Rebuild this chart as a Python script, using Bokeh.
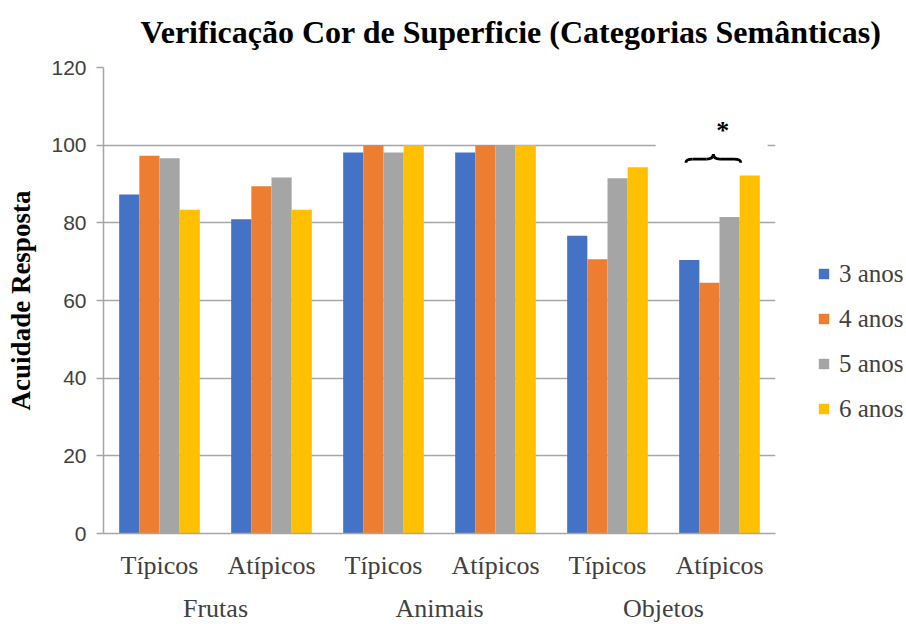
from bokeh.plotting import figure
from bokeh.layouts import row, column
from bokeh.models import (FactorRange, Range1d, Legend, LegendItem, ColumnDataSource,
                          FixedTicker, Label)
from bokeh.transform import dodge
from bokeh.core.properties import value
from bokeh.embed import file_html
from bokeh.resources import INLINE

# ---- data ----
groups = ["Frutas", "Animais", "Objetos"]
subcats = ["Típicos", "Atípicos"]
series_names = ["3 anos", "4 anos", "5 anos", "6 anos"]
colors = ["#4472C4", "#ED7D31", "#A5A5A5", "#FFC000"]
anos3 = [87.3, 80.9, 98.1, 98.1, 76.7, 70.4]
anos4 = [97.3, 89.4, 100.0, 100.0, 70.6, 64.6]
anos5 = [96.6, 91.7, 98.1, 100.0, 91.5, 81.5]
anos6 = [83.4, 83.4, 100.0, 100.0, 94.3, 92.2]
y_ticks = [0, 20, 40, 60, 80, 100, 120]
title_text = "Verificação Cor de Superficie (Categorias Semânticas)"
y_label = "Acuidade Resposta"
signif_factor = ("Objetos", "Atípicos")
signif_mark = "*"

serif = "Liberation Serif"

# ---- title strip ----
tf = figure(width=906, height=55, x_range=Range1d(0, 1), y_range=Range1d(0, 1),
            output_backend="svg", toolbar_location=None,
            min_border_left=0, min_border_right=0, min_border_top=0, min_border_bottom=0)
tf.axis.visible = False
tf.grid.visible = False
tf.outline_line_color = None
tf.add_layout(Label(x=140, y=24, x_units="screen", y_units="screen", text=title_text,
                    text_font=serif, text_font_style="bold", text_font_size="32px",
                    text_color="black", text_baseline="middle", text_align="left"))

# ---- main chart ----
factors = [(g, s) for g in groups for s in subcats]
source = ColumnDataSource(dict(x=factors, a3=anos3, a4=anos4, a5=anos5, a6=anos6))

x_range = FactorRange(factors=factors, factor_padding=0, group_padding=0, range_padding=0)
p = figure(x_range=x_range, y_range=Range1d(0, 120), frame_width=672, frame_height=466,
           output_backend="svg", toolbar_location=None,
           min_border_left=103, min_border_right=20, min_border_top=12, min_border_bottom=91)

bar_w = 0.18
offsets = [-0.27, -0.09, 0.09, 0.27]
cols = ["a3", "a4", "a5", "a6"]
for col, off, c in zip(cols, offsets, colors):
    p.vbar(x=dodge("x", off, range=p.x_range), top=col, width=bar_w, source=source,
           fill_color=c, line_color=None)

# significance annotation (synthetic categorical coordinates: factor i centred at i + 0.5)
idx = factors.index(signif_factor) + 0.5
xL, xR = idx - 0.30, idx + 0.19
xc = (xL + xR) / 2
p.quad(left=[idx - 0.57], right=[idx + 0.43], bottom=[99.3], top=[100.7],
       fill_color="white", line_color=None)
d = 0.06
p.bezier(x0=[xL, xc - d, xc + d, xR], y0=[95.5, 96.4, 96.4, 95.5],
         x1=[xL + d, xc, xc, xR - d], y1=[96.4, 97.7, 97.7, 96.4],
         cx0=[xL, xc - d / 3, xc + d / 3, xR], cy0=[96.2, 96.4, 96.4, 96.2],
         cx1=[xL + d / 3, xc, xc, xR - d / 3], cy1=[96.4, 96.8, 96.8, 96.4],
         line_color="black", line_width=2.8)
p.segment(x0=[xL + d, xc + d], y0=[96.4, 96.4], x1=[xc - d, xR - d], y1=[96.4, 96.4],
          line_color="black", line_width=2.8)
p.text(x=[idx + 0.03], y=[103.8], text=[signif_mark], text_font=value(serif),
       text_font_style="bold", text_font_size="26px", text_align="center",
       text_baseline="middle", text_color="black")

# axes
p.outline_line_color = None
p.xgrid.grid_line_color = None
p.ygrid.grid_line_color = "#A6A6A6"
p.ygrid.grid_line_width = 1.5
p.yaxis.ticker = FixedTicker(ticks=y_ticks)
p.yaxis.axis_line_color = "#A6A6A6"
p.yaxis.axis_line_width = 1.5
p.yaxis.major_tick_line_color = "#A6A6A6"
p.yaxis.major_tick_line_width = 1.5
p.yaxis.major_tick_out = 7
p.yaxis.major_tick_in = 0
p.yaxis.minor_tick_line_color = None
p.yaxis.major_label_text_font = "Liberation Sans"
p.yaxis.major_label_text_font_size = "21px"
p.yaxis.major_label_text_color = "#404040"
p.yaxis.major_label_standoff = 10
p.yaxis.axis_label = y_label
p.yaxis.axis_label_text_font = serif
p.yaxis.axis_label_text_font_style = "bold"
p.yaxis.axis_label_text_font_size = "27px"
p.yaxis.axis_label_text_color = "black"
p.yaxis.axis_label_standoff = 12

p.xaxis.axis_line_color = "#A6A6A6"
p.xaxis.axis_line_width = 1.5
p.xaxis.major_tick_line_color = None
p.xaxis.minor_tick_line_color = None
p.xaxis.major_label_text_font = serif
p.xaxis.major_label_text_font_size = "26px"
p.xaxis.major_label_text_color = "#404040"
p.xaxis.major_label_standoff = 11
p.xaxis.group_text_font = serif
p.xaxis.group_text_font_size = "26px"
p.xaxis.group_text_color = "#404040"
p.xaxis.group_text_font_style = "normal"
p.xaxis.separator_line_color = None

# ---- legend in a narrow companion figure on the right ----
lg = figure(width=111, frame_height=466, x_range=Range1d(0, 1), y_range=Range1d(0, 1),
            output_backend="svg", toolbar_location=None,
            min_border_left=0, min_border_right=0, min_border_top=12, min_border_bottom=91)
lg.axis.visible = False
lg.grid.visible = False
lg.outline_line_color = None
# swatch renderers placed outside the visible range: only their legend entries show
dummies = [lg.vbar(x=[5], top=[5], bottom=[4], width=0.1, fill_color=c, line_color=None)
           for c in colors]

legend = Legend(items=[LegendItem(label=n, renderers=[r]) for n, r in zip(series_names, dummies)],
                location=(22, 110))
legend.label_text_font = serif
legend.label_text_font_size = "25px"
legend.label_text_color = "#404040"
legend.glyph_width = 13
legend.glyph_height = 13
legend.label_height = 29
legend.spacing = 16
legend.padding = 0
legend.margin = 0
legend.border_line_color = None
legend.background_fill_alpha = 0
legend.label_standoff = 9
lg.add_layout(legend, "center")

layout = column(tf, row(p, lg, spacing=0), spacing=0)
open("out.html", "w").write(file_html(layout, INLINE))
